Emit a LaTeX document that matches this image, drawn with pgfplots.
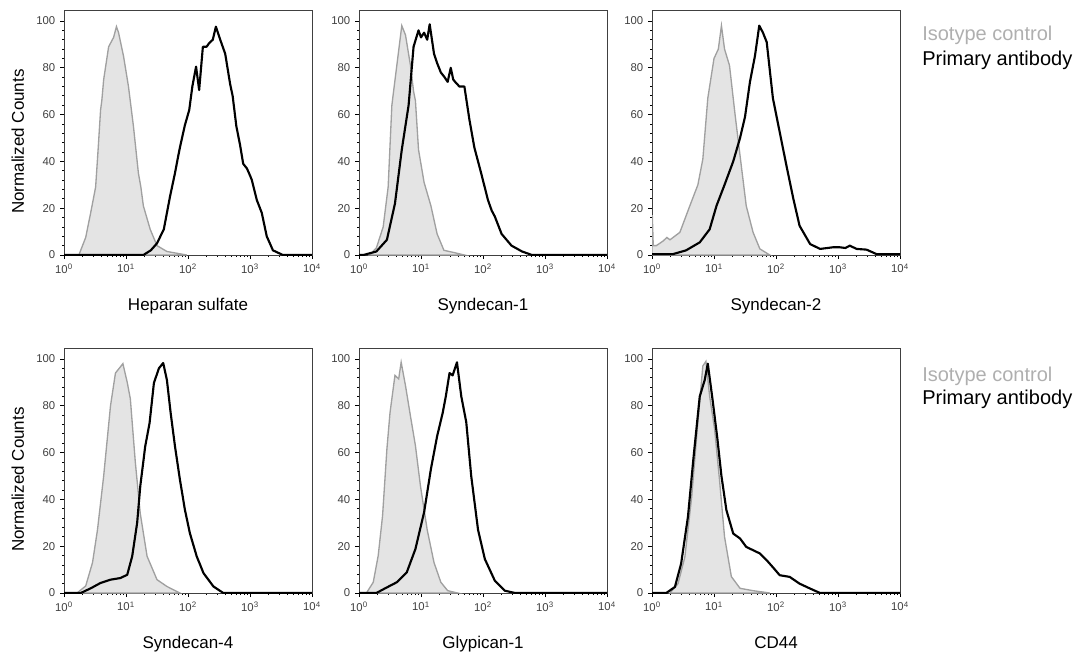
\documentclass[border=0pt]{standalone}
\usepackage{fontspec}
\setmainfont{Liberation Sans}
\usepackage{pgfplots}
\pgfplotsset{compat=1.18}
\definecolor{isoline}{HTML}{A0A0A0}
\definecolor{isofill}{HTML}{E4E4E4}
\definecolor{legiso}{HTML}{AFAFAF}
\pgfplotsset{panel/.style={
  scale only axis, width=186pt, height=183.75pt,
  xmin=0, xmax=4, ymin=0, ymax=104.7,
  xtick={0,1,2,3,4},
  xticklabels={10\textsuperscript{0},10\textsuperscript{1},10\textsuperscript{2},10\textsuperscript{3},10\textsuperscript{4}},
  minor xtick={0.301,0.477,0.602,0.699,0.778,0.845,0.903,0.954,
               1.301,1.477,1.602,1.699,1.778,1.845,1.903,1.954,
               2.301,2.477,2.602,2.699,2.778,2.845,2.903,2.954,
               3.301,3.477,3.602,3.699,3.778,3.845,3.903,3.954},
  ytick={0,20,40,60,80,100}, minor y tick num=4,
  xtick pos=bottom, ytick pos=left,
  tick align=outside, major tick length=3pt, minor tick length=1.5pt,
  tick style={black, line width=0.6pt},
  axis line style={line width=0.6pt, black!75},
  ticklabel style={font=\fontsize{8.5}{9}\selectfont, text=black!75},
  /pgf/number format/assume math mode=true,
  every axis x label/.style={at={(axis description cs:0.5,-0.2245)}, anchor=base, font=\fontsize{12.75}{14}\selectfont},
  every axis y label/.style={at={(axis description cs:-0.186,0.463)}, anchor=center, rotate=90, font=\fontsize{12.75}{14}\selectfont},
},
iso/.style={draw=isoline, line width=1pt, fill=isofill},
prim/.style={draw=black, line width=1.6pt, line join=round}
}
\begin{document}
\begin{tikzpicture}
\useasboundingbox (0,0) rectangle (807pt,-493.5pt);
% Row 1
\begin{axis}[panel, at={(48pt,-191.25pt)}, anchor=south west, xlabel={Heparan sulfate}, ylabel={Normalized Counts}]
\addplot[iso] coordinates {(0.24,0)(0.35,7.5)(0.43,18)(0.51,29)(0.55,45)(0.59,62)(0.61,66)(0.64,75)(0.72,89)(0.80,93)(0.846,97.6)(0.88,95)(0.96,85)(1.04,72)(1.12,55)(1.2,35)(1.24,29)(1.28,21)(1.39,11)(1.50,4)(1.66,1.5)(1.98,0)} \closedcycle;
\addplot[prim] coordinates {(0,0)(1.28,0)(1.40,2)(1.50,5)(1.61,11)(1.66,18)(1.71,25)(1.79,35)(1.84,42)(1.87,46)(1.95,55.5)(2.02,62)(2.07,72)(2.13,80.5)(2.18,70.5)(2.24,89)(2.30,89)(2.34,90.5)(2.40,92)(2.45,97.6)(2.52,92)(2.56,89)(2.60,86)(2.68,73)(2.72,68)(2.78,55)(2.84,47)(2.89,39)(2.95,37)(3.00,34)(3.03,32)(3.11,23.5)(3.19,18)(3.27,8)(3.37,2)(3.53,0)(4,0)};
\end{axis}
\begin{axis}[panel, at={(269.25pt,-191.25pt)}, anchor=south west, xlabel={Syndecan-1}]
\addplot[iso] coordinates {(0.17,0)(0.28,3)(0.39,12)(0.47,29)(0.53,64)(0.61,81)(0.69,98)(0.75,94)(0.83,81)(0.88,70)(0.91,66)(0.96,45)(1.05,31)(1.16,21)(1.26,9)(1.37,2)(1.54,1)(1.70,0)} \closedcycle;
\addplot[prim] coordinates {(0,0)(0.07,0)(0.28,1.5)(0.45,6.5)(0.58,22)(0.69,45)(0.80,64)(0.88,89)(0.96,96)(1.00,93)(1.05,95)(1.10,92)(1.14,98.6)(1.21,86)(1.26,82)(1.32,78)(1.38,76)(1.43,74)(1.48,80)(1.52,75)(1.55,74)(1.62,72)(1.70,72)(1.78,58)(1.86,46)(1.97,35)(2.08,23.5)(2.14,19)(2.19,16.5)(2.30,9)(2.46,4)(2.63,1.5)(2.79,0)(4,0)};
\end{axis}
\begin{axis}[panel, at={(489pt,-191.25pt)}, anchor=south west, xlabel={Syndecan-2}]
\addplot[iso] coordinates {(0,0)(0.005,17)(0.02,4)(0.07,4)(0.18,6)(0.24,7.5)(0.29,6.5)(0.45,9.7)(0.61,21)(0.74,30)(0.82,41)(0.90,67)(1.0,84)(1.07,88)(1.12,98)(1.17,88)(1.25,81)(1.34,60)(1.42,42.5)(1.52,21)(1.63,9.7)(1.74,2.6)(1.90,0)} \closedcycle;
\addplot[prim] coordinates {(0,0.4)(0.34,0.4)(0.55,2)(0.77,5.4)(0.93,11)(1.04,21)(1.17,30)(1.31,40)(1.42,50)(1.50,59)(1.58,74)(1.66,85)(1.73,98)(1.79,95)(1.85,91)(1.95,67)(2.06,52.5)(2.17,38)(2.28,24)(2.38,12.5)(2.55,4.7)(2.71,2.6)(2.92,3.3)(3.03,3.3)(3.12,3.0)(3.19,4)(3.30,2.6)(3.46,2.3)(3.62,0.4)(4,0.4)};
\end{axis}
% Row 2
\begin{axis}[panel, at={(48pt,-444.75pt)}, anchor=south west, xlabel={Syndecan-4}, ylabel={Normalized Counts}]
\addplot[iso] coordinates {(0.21,0)(0.35,3)(0.46,13)(0.54,27)(0.64,50)(0.75,80)(0.83,94)(0.95,98)(1.02,90)(1.07,83)(1.15,56)(1.23,34)(1.34,15.7)(1.50,5.7)(1.66,2.8)(1.87,0)} \closedcycle;
\addplot[prim] coordinates {(0,0)(0.27,0)(0.43,2)(0.59,4.3)(0.75,5.7)(0.91,6.4)(1.02,7.8)(1.10,15.7)(1.18,30)(1.23,45.6)(1.31,62.7)(1.38,72.6)(1.45,89.7)(1.53,96)(1.60,98.3)(1.66,91)(1.72,77)(1.79,62.7)(1.87,48.4)(1.95,35.6)(2.03,25.6)(2.14,15.7)(2.25,8.5)(2.41,2.8)(2.57,0)(4,0)};
\end{axis}
\begin{axis}[panel, at={(269.25pt,-444.75pt)}, anchor=south west, xlabel={Glypican-1}]
\addplot[iso] coordinates {(0.12,0)(0.23,4.6)(0.31,16)(0.38,33)(0.45,61.5)(0.50,77)(0.58,93)(0.64,91.5)(0.68,98.6)(0.75,88.6)(0.83,75.6)(0.91,63)(0.99,46)(1.10,27)(1.21,13)(1.32,4.6)(1.43,1)(1.59,0)} \closedcycle;
\addplot[prim] coordinates {(0,0)(0.28,0)(0.45,2.4)(0.61,4.6)(0.77,8.8)(0.91,18.8)(1.05,34.5)(1.16,53)(1.26,67)(1.35,77)(1.40,84)(1.46,94)(1.51,93)(1.58,98.6)(1.65,84)(1.73,73)(1.81,50)(1.92,27)(2.03,14.5)(2.19,5.3)(2.35,1)(2.52,0)(4,0)};
\end{axis}
\begin{axis}[panel, at={(489pt,-444.75pt)}, anchor=south west, xlabel={CD44}]
\addplot[iso] coordinates {(0.29,0)(0.42,4)(0.53,15.4)(0.64,41)(0.73,70)(0.82,97)(0.87,99)(0.93,84)(1.01,70)(1.09,48)(1.17,24)(1.28,7)(1.42,2)(1.63,1)(1.90,0)} \closedcycle;
\addplot[prim] coordinates {(0,0)(0.23,0)(0.37,2.6)(0.47,12.6)(0.58,32.6)(0.67,58)(0.77,84)(0.85,91)(0.90,98)(0.97,84)(1.05,67)(1.12,50)(1.20,35.4)(1.31,25.4)(1.42,23.3)(1.52,19.7)(1.63,18.3)(1.74,16.9)(1.85,14)(1.95,11)(2.06,7.6)(2.22,6.9)(2.38,4)(2.55,1.9)(2.71,0)(4,0)};
\end{axis}
% Legends
\node[anchor=base west, inner sep=0pt, text=legiso, font=\fontsize{15}{17}\selectfont] at (691.5pt,-30pt) {Isotype control};
\node[anchor=base west, inner sep=0pt, text=black, font=\fontsize{15}{17}\selectfont] at (691.5pt,-48.75pt) {Primary antibody};
\node[anchor=base west, inner sep=0pt, text=legiso, font=\fontsize{15}{17}\selectfont] at (691.5pt,-285.75pt) {Isotype control};
\node[anchor=base west, inner sep=0pt, text=black, font=\fontsize{15}{17}\selectfont] at (691.5pt,-303pt) {Primary antibody};
\end{tikzpicture}
\end{document}
